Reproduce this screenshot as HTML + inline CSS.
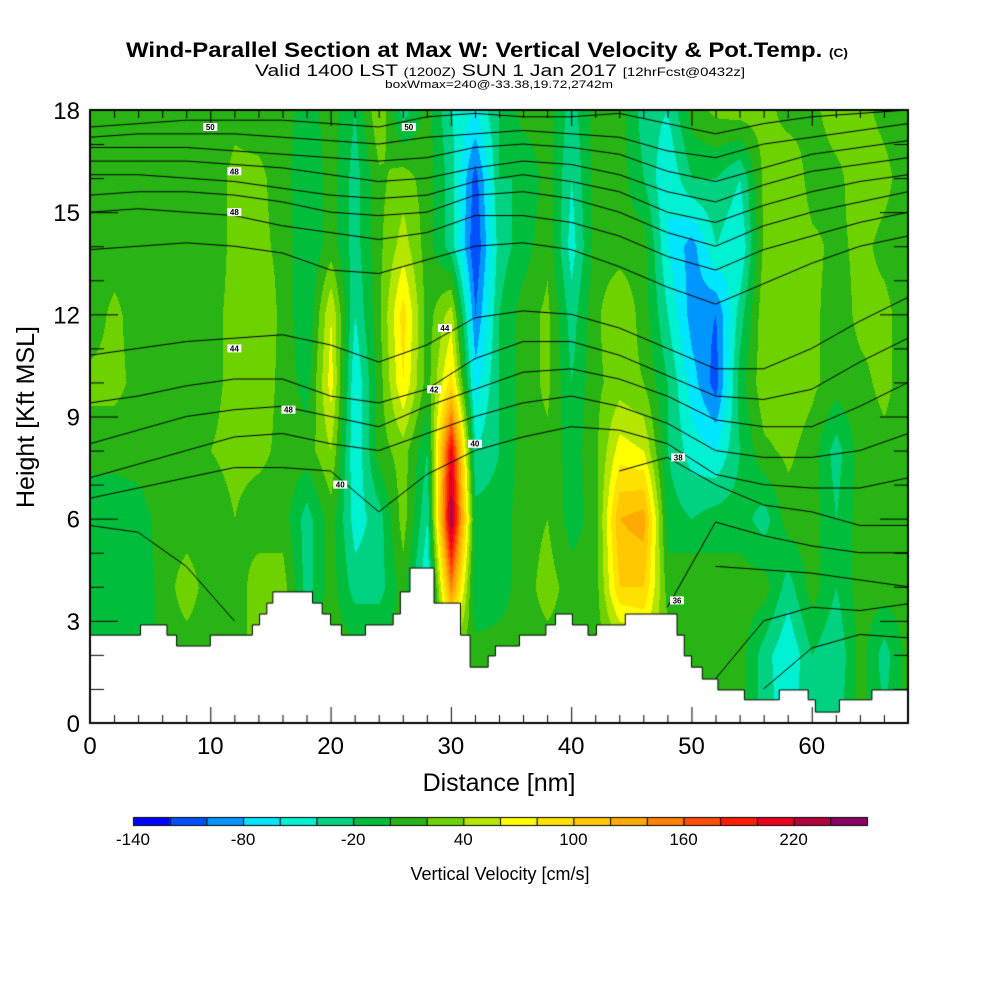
<!DOCTYPE html>
<html><head><meta charset="utf-8">
<style>
body{margin:0;background:#fff;width:1000px;height:1000px;overflow:hidden;position:relative;font-family:"Liberation Sans",sans-serif}
#plot{position:absolute;left:0;top:0}
#txt{position:absolute;left:0;top:0}
</style></head><body>
<canvas id="plot" width="1000" height="1000"></canvas>
<svg id="txt" width="1000" height="1000" font-family="Liberation Sans, sans-serif">
<text x="126" y="57" font-size="21" font-weight="bold" textLength="722" lengthAdjust="spacingAndGlyphs">Wind-Parallel Section at Max W: Vertical Velocity &amp; Pot.Temp. <tspan font-size="12">(C)</tspan></text>
<text x="255" y="76" font-size="17" textLength="490" lengthAdjust="spacingAndGlyphs">Valid 1400 LST <tspan font-size="12">(1200Z)</tspan> SUN 1 Jan 2017 <tspan font-size="12">[12hrFcst@0432z]</tspan></text>
<text x="385" y="88" font-size="11" textLength="228" lengthAdjust="spacingAndGlyphs">boxWmax=240@-33.38,19.72,2742m</text>
<g id="xlabels" font-size="24" text-anchor="middle"></g>
<g id="ylabels" font-size="24" text-anchor="end"></g>
<text x="499" y="791" font-size="25" text-anchor="middle">Distance [nm]</text>
<text transform="translate(34,417) rotate(-90)" font-size="25" text-anchor="middle">Height [Kft MSL]</text>
<g id="cblabels" font-size="17" text-anchor="middle"></g>
<text x="500" y="880" font-size="18" text-anchor="middle">Vertical Velocity [cm/s]</text>
<g id="clabels" font-size="8" text-anchor="middle" font-weight="bold"></g>
</svg>
<script>
// ---- data ----
const gridX = [0,2,4,6,8,10,12,14,16,18,20,22,24,26,28,30,32,34,36,38,40,42,44,46,48,50,52,54,56,58,60,62,64,66,68];
const gridY = [0,2,4,6,8,10,12,14,16,18];
const w0  = [-10,-10,-10,10,10,10,10,10,10,10,10,10,10,10,10,10,10,10,10,10,10,10,10,20,20,10,10,10,-30,-50,-20,-30,10,-20,10];
const w2  = [-20,-20,-20,10,10,10,10,30,30,10,10,10,10,10,10,10,10,10,10,10,10,10,20,40,30,10,10,10,-30,-60,-20,-40,10,-30,10];
const w4  = [-20,-20,-20,10,30,10,10,30,30,-30,10,-30,-30,10,-60,150,-20,-10,10,30,10,10,100,100,10,20,10,10,10,-30,10,-20,10,10,10];
const w6  = [-20,-20,-10,10,10,10,20,10,10,-30,10,-50,-30,30,-40,240,-10,-10,10,20,-10,10,120,130,-10,-20,-10,-10,-30,10,10,-20,10,10,10];
const w8  = [10,10,10,10,10,20,25,25,15,10,40,-60,10,30,-20,210,-40,-20,10,15,-10,15,70,60,-20,-50,-60,-20,15,25,10,-30,10,15,10];
const w10 = [25,25,15,10,10,15,25,30,15,-10,70,-60,10,80,10,90,-70,-20,10,25,-20,15,30,20,-20,-70,-110,-10,35,35,25,10,15,25,10];
const w12 = [10,25,10,10,10,15,25,35,15,-20,60,-40,15,90,10,50,-100,-20,10,25,-30,15,40,10,-40,-90,-100,-30,35,40,25,10,25,25,10];
const w14 = [10,10,10,10,10,10,25,25,15,-20,10,-30,15,50,10,-30,-120,-30,-10,15,-50,10,10,10,-60,-90,-40,-60,25,40,25,15,25,15,10];
const w16 = [10,10,10,10,10,10,25,25,10,-20,10,-30,15,30,10,-30,-110,-20,-20,10,-40,10,10,-20,-60,-20,-20,-40,25,40,10,15,30,25,10];
const w18 = [10,10,10,10,10,10,15,10,10,-10,10,-20,40,-30,10,-40,-60,-20,10,10,-30,10,10,-30,-40,10,25,30,30,10,15,30,25,15,10];
const wRows = [w0,w2,w4,w6,w8,w10,w12,w14,w16,w18];
// terrain: breakpoints (nm) and step heights (kft)
const terrX = [0,4.2,6.4,7.2,10.0,13.5,14.1,14.7,15.2,18.5,19.3,20.0,20.9,22.9,25.2,25.8,26.6,28.6,30.8,31.6,33.1,33.7,35.7,37.9,38.7,40.1,41.4,42.1,44.5,46.7,48.8,49.4,50.0,50.9,52.2,54.4,57.3,59.7,60.3,62.3,65.0,68];
const terrH = [2.58,2.88,2.58,2.26,2.58,2.88,3.2,3.52,3.85,3.52,3.2,2.88,2.58,2.88,3.2,3.85,4.55,3.52,2.58,1.64,1.97,2.26,2.58,2.88,3.2,2.88,2.58,2.88,3.2,3.2,2.58,1.97,1.64,1.29,0.97,0.68,0.97,0.68,0.32,0.68,0.97];
// isentropes: heights (kft) at lineX
const lineX = [0,4,8,12,16,20,24,28,32,36,40,44,48,52,56,60,64,68];
const isen = [
[17.5,17.6,17.7,17.7,17.7,17.6,17.5,17.8,17.9,17.8,17.8,17.9,17.6,17.3,17.6,17.8,17.9,18.0],
[17.2,17.3,17.3,17.3,17.2,17.1,17.0,17.2,17.3,17.4,17.3,17.2,16.8,16.6,17.0,17.2,17.4,17.6],
[16.9,16.9,16.9,16.8,16.7,16.6,16.5,16.6,16.9,17.0,16.9,16.7,16.2,15.9,16.3,16.7,16.9,17.1],
[16.5,16.5,16.5,16.4,16.3,16.1,15.9,16.0,16.3,16.5,16.4,16.1,15.6,15.3,15.8,16.2,16.4,16.6],
[16.1,16.1,16.0,15.9,15.7,15.5,15.4,15.5,15.9,16.1,15.9,15.6,15.0,14.7,15.2,15.6,15.9,16.1],
[15.5,15.6,15.6,15.5,15.3,15.0,14.9,15.0,15.5,15.6,15.4,15.0,14.4,14.0,14.6,15.0,15.3,15.6],
[15.0,15.1,15.0,14.9,14.6,14.4,14.2,14.4,14.9,14.9,14.7,14.3,13.7,13.3,13.9,14.3,14.7,15.0],
[13.9,14.0,14.1,14.0,13.8,13.3,13.2,13.6,14.0,14.1,13.9,13.4,12.8,12.3,12.9,13.5,14.0,14.3],
[10.8,11.0,11.2,11.3,11.4,11.1,10.6,11.1,11.9,12.1,12.0,11.6,11.0,10.4,10.4,11.0,11.8,12.5],
[9.4,9.6,9.9,10.1,10.1,9.6,9.4,9.8,10.7,11.2,11.2,10.8,10.2,9.6,9.5,9.8,10.6,11.3],
[8.2,8.6,9.0,9.2,9.3,9.0,8.7,9.3,9.8,10.3,10.4,10.1,9.6,8.9,8.7,8.7,9.3,10.0],
[7.2,7.6,8.0,8.4,8.5,8.2,8.0,8.5,9.0,9.4,9.6,9.3,8.8,8.0,7.8,7.8,8.0,8.5],
[6.6,6.9,7.2,7.5,7.5,7.4,6.2,7.3,8.0,8.4,8.7,8.6,8.2,7.3,7.0,6.9,6.9,7.2],
[5.8,5.6,4.6,3.0,null,null,null,null,null,null,null,7.4,7.8,7.0,6.4,6.2,5.8,5.8],
[null,null,null,null,null,null,null,null,null,null,null,null,3.4,5.9,5.5,5.2,5.0,5.0],
[null,null,null,null,null,null,null,null,null,null,null,null,null,4.6,4.5,4.4,4.2,4.0],
[null,null,null,null,null,null,null,null,null,null,null,null,null,1.3,3.0,3.4,3.3,3.5],
[null,null,null,null,null,null,null,null,null,null,null,null,null,null,1.0,2.2,2.6,2.5]
];
const labelText = ["50","50","48","48","44","48","40","42","44","40","38","36"];
const labelXs = [10,26.5,12,12,12,16.5,20.8,28.6,29.5,32,48.9,48.8];
const labelYs = [17.5,17.5,16.2,15.0,11.0,9.2,7.0,9.8,11.6,8.2,7.8,3.6];
const cbTicks = [-140,-80,-20,40,100,160,220];
const cbColors = ["#0000ff","#0050ff","#0096ff","#00e6ff","#00f0d2","#00d282","#00be3c","#28b414","#6ed200","#b4e600","#ffff00","#ffe100","#ffc800","#ffaa00","#ff8200","#ff5000","#ff1e00","#eb001e","#b4003c","#8c0064"];
const xTicks = [0,10,20,30,40,50,60];
const yTicks = [0,3,6,9,12,15,18];

// ---- geometry ----
const PL=90, PT=110, PW=818, PH=613, XMAX=68, YMAX=18;
const sx = v => PL + v/XMAX*PW;
const sy = v => PT + PH - v/YMAX*PH;
const cvs = document.getElementById('plot');
const ctx = cvs.getContext('2d');
function hex(c){return [parseInt(c.substr(1,2),16),parseInt(c.substr(3,2),16),parseInt(c.substr(5,2),16)];}
const rgb = cbColors.map(hex);
function interp(xn,yk){
  let i=Math.min(gridX.length-2,Math.max(0,Math.floor(xn/2)));
  let j=Math.min(gridY.length-2,Math.max(0,Math.floor(yk/2)));
  let fx=(xn-gridX[i])/(gridX[i+1]-gridX[i]), fy=(yk-gridY[j])/(gridY[j+1]-gridY[j]);
  fx=Math.max(0,Math.min(1,fx)); fy=Math.max(0,Math.min(1,fy));
  const a=wRows[j][i],b=wRows[j][i+1],c=wRows[j+1][i],d=wRows[j+1][i+1];
  return (a*(1-fx)+b*fx)*(1-fy)+(c*(1-fx)+d*fx)*fy;
}
const img = ctx.createImageData(PW,PH);
for(let py=0;py<PH;py++){
  const yk=(PH-py)/PH*YMAX;
  for(let px=0;px<PW;px++){
    const xn=px/PW*XMAX;
    const v=interp(xn,yk);
    let k=Math.floor((v+140)/20); k=Math.max(0,Math.min(19,k));
    const o=(py*PW+px)*4, c=rgb[k];
    img.data[o]=c[0];img.data[o+1]=c[1];img.data[o+2]=c[2];img.data[o+3]=255;
  }
}
ctx.putImageData(img,PL,PT);
// isentropes
ctx.save();ctx.beginPath();ctx.rect(PL,PT,PW,PH);ctx.clip();
ctx.strokeStyle="#000";ctx.lineWidth=1;
isen.forEach(line=>{
  ctx.beginPath();let pen=false;
  line.forEach((h,i)=>{
    if(h===null){pen=false;return;}
    if(!pen){ctx.moveTo(sx(lineX[i]),sy(h));pen=true;} else ctx.lineTo(sx(lineX[i]),sy(h));
  });
  ctx.stroke();
});
// terrain
ctx.fillStyle="#fff";ctx.strokeStyle="#000";ctx.beginPath();
ctx.moveTo(sx(0),sy(0));
for(let i=0;i<terrH.length;i++){ctx.lineTo(sx(terrX[i]),sy(terrH[i]));ctx.lineTo(sx(terrX[i+1]),sy(terrH[i]));}
ctx.lineTo(sx(XMAX),sy(0));ctx.closePath();ctx.fill();ctx.stroke();
ctx.restore();
// frame & ticks
ctx.strokeStyle="#000";ctx.lineWidth=2;ctx.strokeRect(PL,PT,PW,PH);
ctx.lineWidth=1;
for(let x=0;x<=XMAX;x+=2){const L=(x%10===0)?16:8;ctx.beginPath();ctx.moveTo(sx(x)+.5,PT+PH);ctx.lineTo(sx(x)+.5,PT+PH-L);ctx.moveTo(sx(x)+.5,PT);ctx.lineTo(sx(x)+.5,PT+L);ctx.stroke();}
for(let y=0;y<=YMAX;y+=1){const L=(y%3===0)?28:14;ctx.beginPath();ctx.moveTo(PL,sy(y)+.5);ctx.lineTo(PL+L,sy(y)+.5);ctx.moveTo(PL+PW,sy(y)+.5);ctx.lineTo(PL+PW-L,sy(y)+.5);ctx.stroke();}
// colorbar
const CB0=133, CBW=(867-133)/20;
cbColors.forEach((c,i)=>{ctx.fillStyle=c;ctx.fillRect(CB0+i*CBW,817,CBW,8);ctx.strokeStyle="#000";ctx.strokeRect(CB0+i*CBW+.5,817.5,CBW,8);});
// svg labels
const NS="http://www.w3.org/2000/svg";
function addText(g,x,y,t,name){const e=document.createElementNS(NS,'text');e.setAttribute('x',x);e.setAttribute('y',y);e.textContent=t;


g.appendChild(e);return e;}
const gx=document.getElementById('xlabels');
xTicks.forEach(t=>addText(gx,sx(t),754,t,'x-tick-label'));
const gy=document.getElementById('ylabels');
yTicks.forEach(t=>addText(gy,80,sy(t)+9,t,'y-tick-label'));
const gc=document.getElementById('cblabels');
cbTicks.forEach(t=>addText(gc,CB0+(t+140)/20*CBW,845,t,'colorbar-tick-label'));
const gl=document.getElementById('clabels');
labelText.forEach((t,i)=>{
  const r=document.createElementNS(NS,'rect');
  r.setAttribute('x',sx(labelXs[i])-7);r.setAttribute('y',sy(labelYs[i])-4);r.setAttribute('width',14);r.setAttribute('height',8);r.setAttribute('fill','#fff');
  
  
  gl.appendChild(r);
  addText(gl,sx(labelXs[i]),sy(labelYs[i])+3,t,'contour-label');
});
</script>
</body></html>
